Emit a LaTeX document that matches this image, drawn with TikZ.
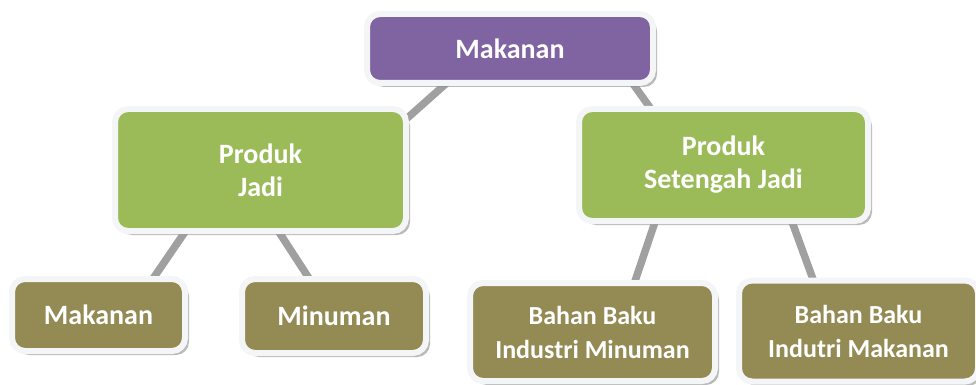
\documentclass[tikz,border=0pt]{standalone}
\usepackage{fontspec}
\setmainfont{Carlito}
\usetikzlibrary{shadows,calc,backgrounds}
\definecolor{cpurple}{HTML}{8064A2}
\definecolor{cgreen}{HTML}{9BBB59}
\definecolor{colive}{HTML}{948A54}
\definecolor{cborder}{HTML}{F4F5F6}
\definecolor{cline}{HTML}{A0A0A0}
\tikzset{
  box/.style={draw=cborder, line width=6pt, rounded corners=13pt,
    text=white, font=\bfseries\fontsize{28}{33}\selectfont, align=center,
    inner sep=0pt,
    drop shadow={shadow xshift=4pt, shadow yshift=-4pt, fill=black!45, opacity=0.6}},
  twoline/.style={font=\bfseries\fontsize{26}{34}\selectfont},
  conn/.style={draw=cline, line width=7.5pt}
}
\begin{document}
\begin{tikzpicture}[x=1pt,y=-1pt]
\useasboundingbox (0,0) rectangle (976,385);
\node[box, fill=cpurple, minimum width=286pt, minimum height=69pt] (top) at (510,48.5) {Makanan};
\node[box, fill=cgreen, minimum width=291pt, minimum height=122pt] (pj) at (260.5,170) {Produk\\Jadi};
\node[box, fill=cgreen, minimum width=289pt, minimum height=112pt] (psj) at (723.5,165) {Produk\\Setengah Jadi};
\node[box, fill=colive, minimum width=173pt, minimum height=72pt] (m1) at (98.5,315) {Makanan};
\node[box, fill=colive, minimum width=184pt, minimum height=74pt] (m2) at (334,316) {Minuman};
\node[box, twoline, fill=colive, minimum width=245pt, minimum height=98pt] (b1) at (592.5,332) {Bahan Baku\\Industri Minuman};
\node[box, twoline, fill=colive, minimum width=239pt, minimum height=101pt] (b2) at (858.5,331) {Bahan Baku\\Indutri Makanan};
\begin{scope}[on background layer]
\draw[conn] ($(top.south west)+(85,-5)$) -- ($(pj.north east)+(-5,15)$);
\draw[conn] ($(top.south east)+(-25,-5)$) -- ($(psj.north west)+(80,10)$);
\draw[conn] ($(pj.south west)+(75,-5)$) -- ($(m1.north east)+(-40,10)$);
\draw[conn] ($(pj.south west)+(165,-5)$) -- ($(m2.north west)+(75,10)$);
\draw[conn] ($(psj.south west)+(80,-5)$) -- ($(b1.north west)+(165,10)$);
\draw[conn] ($(psj.south west)+(215,-5)$) -- ($(b2.north west)+(80,10)$);
\end{scope}
\end{tikzpicture}
\end{document}
